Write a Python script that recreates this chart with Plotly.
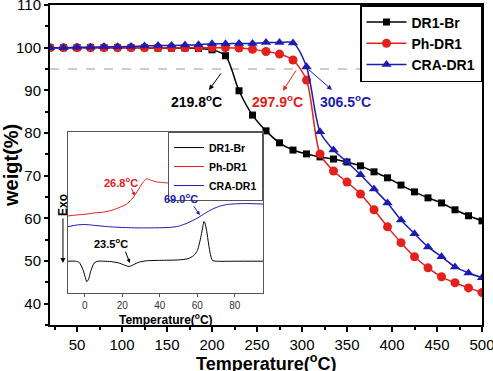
import plotly.graph_objects as go

# ---------------- TGA data ----------------
temps = [20, 35, 50, 65, 80, 95, 110, 125, 140, 155, 170, 185, 200, 215, 230, 245,
         260, 275, 290, 305, 320, 335, 350, 365, 380, 395, 410, 425, 440, 455, 470, 485, 500]
dr1_br = [100.0, 100.0, 100.0, 100.0, 100.0, 100.0, 100.0, 100.0, 99.9, 99.9, 99.9, 99.8,
          99.5, 98.1, 89.9, 84.2, 80.5, 77.7, 76.0, 75.1, 74.4, 73.9, 73.2, 72.3, 70.9,
          69.5, 67.8, 66.2, 64.8, 63.6, 62.0, 60.6, 59.4]
ph_dr1 = [100.0, 100.0, 100.0, 100.0, 100.0, 100.0, 100.0, 100.0, 100.0, 100.0, 100.0, 100.0,
          100.0, 100.0, 99.9, 99.6, 99.1, 98.5, 97.1, 92.4, 75.1, 71.1, 68.5, 65.7, 62.0,
          58.0, 54.3, 51.0, 48.4, 46.3, 44.9, 43.7, 42.6]
cra_dr1 = [100.0, 100.0, 100.1, 100.1, 100.2, 100.2, 100.3, 100.4, 100.5, 100.5, 100.6, 100.7,
           100.9, 100.9, 101.0, 101.0, 101.2, 101.2, 101.1, 95.5, 80.3, 76.0, 73.2, 70.2, 66.9,
           63.6, 59.6, 56.4, 53.3, 51.0, 48.6, 47.2, 46.1]
threshold = 95
td_labels = ["219.8<sup>o</sup>C", "297.9<sup>o</sup>C", "306.5<sup>o</sup>C"]

# ---------------- DSC (inset) data ----------------
dsc_br_t = [-9, -5, -3, -1, 0, 1, 2, 3, 5, 7, 10, 14, 18, 21, 23, 24, 26, 29, 33, 40, 50,
            55, 58, 60, 61, 62, 63, 63.5, 64, 65, 66, 67, 68, 70, 80, 95]
dsc_br = [50.0, 50.0, 49.7, 48.0, 46.5, 45.2, 45.8, 47.5, 49.6, 50.0, 50.0, 49.9, 49.6, 49.1,
          48.8, 48.8, 49.2, 49.8, 50.1, 50.2, 50.3, 50.6, 51.3, 52.5, 54.0, 56.0, 58.3, 59.3,
          59.0, 57.0, 54.0, 51.5, 50.2, 50.0, 50.0, 50.0]
dsc_ph_t = [-9, -5, 0, 5, 10, 15, 19, 22, 25, 28, 31, 33, 35, 38, 45, 60, 75, 95]
dsc_ph = [60.6, 60.8, 61.0, 61.3, 61.5, 62.0, 62.7, 63.3, 64.5, 66.4, 68.5, 69.3, 69.0, 68.6,
          68.3, 68.0, 67.7, 67.4]
dsc_cra_t = [-9, -4, 0, 5, 12, 20, 30, 45, 50, 55, 60, 64, 68, 72, 76, 85, 95]
dsc_cra = [58.1, 58.5, 58.6, 58.4, 58.1, 57.9, 57.8, 57.9, 58.2, 59.0, 60.1, 61.2, 62.2, 62.9,
           63.3, 63.5, 63.4]
tg_labels = ["23.5<sup>o</sup>C", "26.8<sup>o</sup>C", "69.0<sup>o</sup>C"]

names = ["DR1-Br", "Ph-DR1", "CRA-DR1"]
colors = ["#000000", "#e3201b", "#1c1cb0"]
symbols = ["square", "circle", "triangle-up"]
sizes = [7, 9, 9]
FONT = "Liberation Sans, Arial, sans-serif"

fig = go.Figure()
for name, ys, c, s, sz in zip(names, [dr1_br, ph_dr1, cra_dr1], colors, symbols, sizes):
    fig.add_trace(go.Scatter(
        x=temps, y=ys, name=name, mode="lines+markers",
        line=dict(color=c, width=1.5, shape="spline", smoothing=0.8),
        marker=dict(symbol=s, size=sz, color=c),
        legend="legend", xaxis="x", yaxis="y"))

for name, xs, ys, c in zip(names, [dsc_br_t, dsc_ph_t, dsc_cra_t], [dsc_br, dsc_ph, dsc_cra], colors):
    fig.add_trace(go.Scatter(
        x=xs, y=ys, name=name, mode="lines",
        line=dict(color=c, width=1, shape="spline", smoothing=0.6),
        legend="legend2", xaxis="x2", yaxis="y2"))

# threshold line
fig.add_shape(type="line", xref="x", yref="y", x0=20, x1=500, y0=threshold, y1=threshold,
              line=dict(color="#9a9a9a", width=1, dash="dash"), layer="below")

anns = []
# main Td arrows and labels
arrow_specs = [
    (196.7, 90.1, 211.1, 94.3, colors[0]),
    (278.9, 89.9, 294.4, 95.0, colors[1]),
    (333.3, 90.1, 305.6, 95.2, colors[2]),
]
for hx, hy, tx, ty, c in arrow_specs:
    anns.append(dict(x=hx, y=hy, ax=tx, ay=ty, xref="x", yref="y", axref="x", ayref="y",
                     text="", showarrow=True, arrowhead=2, arrowsize=1, arrowwidth=1,
                     arrowcolor=c))
for (lx, ly), t, c in zip([(183.3, 87.5), (273.3, 87.5), (347.8, 87.5)], td_labels, colors):
    anns.append(dict(x=lx, y=ly, xref="x", yref="y", text=t, showarrow=False,
                     xanchor="center", yanchor="middle",
                     font=dict(family=FONT, size=14, color=c, weight="bold")))

# inset arrows and labels
inset_arrows = [
    (24.0, 49.6, 21.3, 52.6, colors[0]),
    (26.7, 65.3, 24.5, 67.4, colors[1]),
    (61.3, 60.8, 57.6, 63.2, colors[2]),
]
for hx, hy, tx, ty, c in inset_arrows:
    anns.append(dict(x=hx, y=hy, ax=tx, ay=ty, xref="x2", yref="y2", axref="x2", ayref="y2",
                     text="", showarrow=True, arrowhead=2, arrowsize=0.8, arrowwidth=1,
                     arrowcolor=c))
for (lx, ly), t, c in zip([(14.1, 54.3), (19.2, 68.5), (51.2, 64.8)], tg_labels, colors):
    anns.append(dict(x=lx, y=ly, xref="x2", yref="y2", text=t, showarrow=False,
                     xanchor="center", yanchor="middle",
                     font=dict(family=FONT, size=11, color=c, weight="bold")))

# Exo arrow
anns.append(dict(x=0.030, y=0.194, xref="paper", yref="paper", ax=0, ay=-46, text="",
                 showarrow=True, arrowhead=2, arrowsize=1, arrowwidth=1, arrowcolor="#000"))
anns.append(dict(x=0.030, y=0.375, xref="paper", yref="paper", text="Exo", textangle=-90,
                 xanchor="center", yanchor="middle", showarrow=False,
                 font=dict(family=FONT, size=12, color="#000", weight="bold")))

# axis titles
anns.append(dict(x=-0.0903, y=0.5, xref="paper", yref="paper", text="weigt(%)", textangle=-90,
                 xanchor="center", yanchor="middle", showarrow=False,
                 font=dict(family=FONT, size=20, color="#000", weight="bold")))
anns.append(dict(x=0.5, y=-0.116, xref="paper", yref="paper",
                 text="Temperature(<sup>o</sup>C)", showarrow=False,
                 xanchor="center", yanchor="middle",
                 font=dict(family=FONT, size=18, color="#000", weight="bold")))
anns.append(dict(x=0.2675, y=0.018, xref="paper", yref="paper",
                 text="Temperature(<sup>o</sup>C)", showarrow=False,
                 xanchor="center", yanchor="middle",
                 font=dict(family=FONT, size=12, color="#000", weight="bold")))

fig.update_layout(
    width=493, height=371,
    margin=dict(l=50, r=11, t=5, b=46, autoexpand=False),
    paper_bgcolor="white", plot_bgcolor="white",
    font=dict(family=FONT, color="#000"),
    xaxis=dict(range=[20, 500], tickvals=[50, 100, 150, 200, 250, 300, 350, 400, 450, 500],
               ticks="outside", ticklen=5, tickwidth=1.5, tickcolor="#000",
               ticklabeloverflow="allow", automargin=False,
               minor=dict(dtick=25, tick0=0, ticks="outside", ticklen=3, tickwidth=1.5,
                          tickcolor="#000"),
               showline=True, linecolor="#000", linewidth=2, mirror=True,
               showgrid=False, zeroline=False, tickfont=dict(size=15)),
    yaxis=dict(range=[35, 110], tickvals=[40, 50, 60, 70, 80, 90, 100, 110],
               ticks="outside", ticklen=4, tickwidth=1.5, tickcolor="#000",
               ticklabeloverflow="allow", automargin=False,
               minor=dict(dtick=5, tick0=0, ticks="outside", ticklen=3, tickwidth=1.5,
                          tickcolor="#000"),
               showline=True, linecolor="#000", linewidth=2, mirror=True,
               showgrid=False, zeroline=False, tickfont=dict(size=15)),
    xaxis2=dict(domain=[0.0417, 0.493], anchor="y2", range=[-9, 95], automargin=False,
                tickvals=[0, 20, 40, 60, 80], ticks="outside", ticklen=3, tickcolor="#555",
                showline=True, linecolor="#555", linewidth=1, mirror=True,
                showgrid=False, zeroline=False, tickfont=dict(size=10, color="#333")),
    yaxis2=dict(domain=[0.1, 0.603], anchor="x2", range=[42.55, 80.26], automargin=False,
                showticklabels=False, ticks="",
                showline=True, linecolor="#555", linewidth=1, mirror=True,
                showgrid=False, zeroline=False),
    legend=dict(x=1, y=1, xanchor="right", yanchor="top", bgcolor="white",
                bordercolor="#000", borderwidth=1.5, itemwidth=40,
                font=dict(family=FONT, size=14, weight="bold"), tracegroupgap=0),
    legend2=dict(x=0.493, y=0.603, xanchor="right", yanchor="top", bgcolor="white",
                 bordercolor="#555", borderwidth=1,
                 font=dict(family=FONT, size=10.5, weight="bold"), tracegroupgap=0),
    annotations=anns,
    showlegend=True,
)

fig.write_html("out.html", config={"displayModeBar": False},
               post_script="document.body.style.margin='0';document.body.style.padding='0';")
